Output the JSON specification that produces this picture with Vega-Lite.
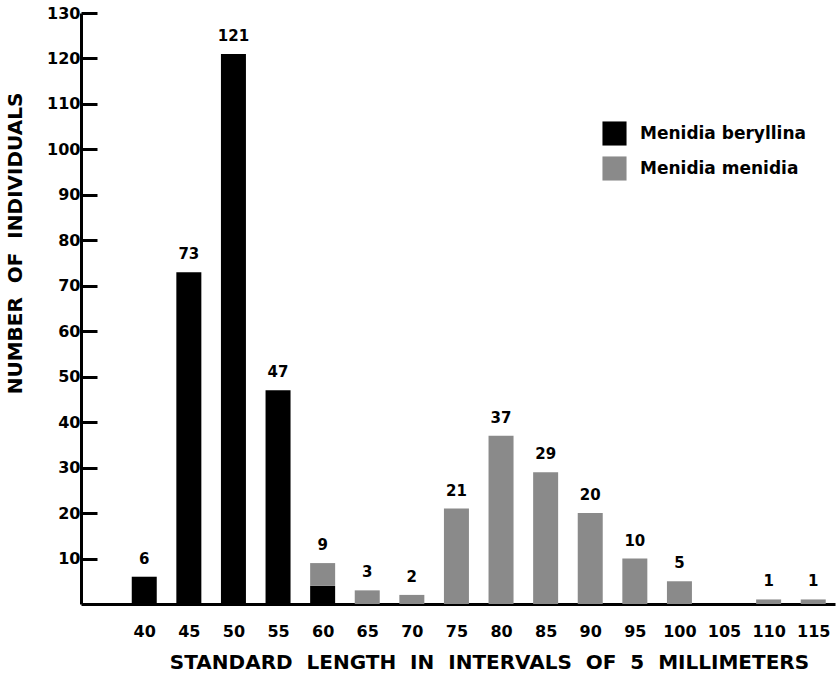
{
  "$schema": "https://vega.github.io/schema/vega-lite/v6.json",
  "width": 754,
  "height": 591,
  "autosize": "none",
  "padding": {"left": 81, "top": 13, "right": 3, "bottom": 70},
  "background": "white",
  "config": {
    "view": {"stroke": null},
    "font": "DejaVu Sans"
  },
  "data": {
    "values": [
      {"length": 40, "species": "Menidia beryllina", "count": 6},
      {"length": 45, "species": "Menidia beryllina", "count": 73},
      {"length": 50, "species": "Menidia beryllina", "count": 121},
      {"length": 55, "species": "Menidia beryllina", "count": 47},
      {"length": 60, "species": "Menidia beryllina", "count": 4},
      {"length": 60, "species": "Menidia menidia", "count": 5},
      {"length": 65, "species": "Menidia menidia", "count": 3},
      {"length": 70, "species": "Menidia menidia", "count": 2},
      {"length": 75, "species": "Menidia menidia", "count": 21},
      {"length": 80, "species": "Menidia menidia", "count": 37},
      {"length": 85, "species": "Menidia menidia", "count": 29},
      {"length": 90, "species": "Menidia menidia", "count": 20},
      {"length": 95, "species": "Menidia menidia", "count": 10},
      {"length": 100, "species": "Menidia menidia", "count": 5},
      {"length": 105, "species": "Menidia menidia", "count": 0},
      {"length": 110, "species": "Menidia menidia", "count": 1},
      {"length": 115, "species": "Menidia menidia", "count": 1}
    ]
  },
  "encoding": {
    "x": {
      "field": "length",
      "type": "quantitative",
      "scale": {"domain": [33.47, 116.88], "nice": false, "zero": false},
      "axis": {
        "values": [40, 45, 50, 55, 60, 65, 70, 75, 80, 85, 90, 95, 100, 105, 110, 115],
        "title": "STANDARD\u00a0 LENGTH\u00a0 IN\u00a0 INTERVALS\u00a0 OF\u00a0 5\u00a0 MILLIMETERS",
        "titleFontSize": 20,
        "titleFontWeight": "bold",
        "titleColor": "black",
        "titleX": 408,
        "titleY": 58,
        "titleAlign": "center",
        "titleBaseline": "middle",
        "labelFontSize": 16,
        "labelFontWeight": "bold",
        "labelColor": "black",
        "labelPadding": 19,
        "ticks": false,
        "grid": false,
        "domainColor": "black",
        "domainWidth": 3,
        "labelFlush": false
      }
    }
  },
  "layer": [
    {
      "mark": {"type": "bar", "width": 25},
      "encoding": {
        "y": {
          "field": "count",
          "type": "quantitative",
          "stack": "zero",
          "scale": {"domain": [0, 130], "nice": false},
          "axis": {
            "values": [10, 20, 30, 40, 50, 60, 70, 80, 90, 100, 110, 120, 130],
            "title": "NUMBER\u00a0 OF\u00a0 INDIVIDUALS",
            "titleFontSize": 20,
            "titleFontWeight": "bold",
            "titleColor": "black",
            "titleX": -66,
            "titleY": 230,
            "titleAngle": -90,
            "titleAlign": "center",
            "titleBaseline": "middle",
            "labelFontSize": 16,
            "labelFontWeight": "bold",
            "labelColor": "black",
            "labelPadding": 17,
            "tickSize": -16,
            "tickWidth": 3,
            "tickColor": "black",
            "grid": false,
            "domainColor": "black",
            "domainWidth": 3
          }
        },
        "color": {
          "field": "species",
          "type": "nominal",
          "scale": {
            "domain": ["Menidia beryllina", "Menidia menidia"],
            "range": ["#000000", "#8a8a8a"]
          },
          "legend": {
            "title": null,
            "orient": "none",
            "legendX": 521,
            "legendY": 108,
            "symbolType": "square",
            "symbolSize": 580,
            "symbolStrokeWidth": 0,
            "symbolOpacity": 1,
            "labelFontSize": 17,
            "labelFontWeight": "bold",
            "labelColor": "black",
            "labelOffset": 13,
            "labelLimit": 300,
            "rowPadding": 10
          }
        },
        "order": {"field": "species", "sort": "ascending"}
      }
    },
    {
      "transform": [
        {"aggregate": [{"op": "sum", "field": "count", "as": "total"}], "groupby": ["length"]},
        {"filter": "datum.total > 0"}
      ],
      "mark": {"type": "text", "baseline": "bottom", "dy": -10, "fontSize": 15, "fontWeight": "bold", "color": "black"},
      "encoding": {
        "y": {"field": "total", "type": "quantitative"},
        "text": {"field": "total", "type": "quantitative"}
      }
    }
  ]
}
